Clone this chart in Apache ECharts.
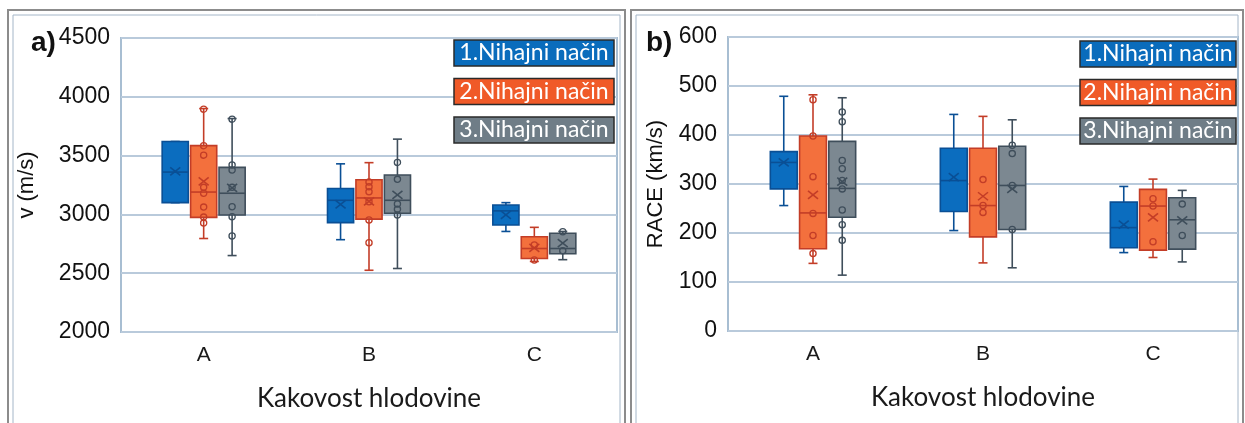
<!DOCTYPE html>
<html lang="sl">
<head>
<meta charset="UTF-8">
<title>Kakovost hlodovine</title>
<script src="https://cdn.jsdelivr.net/npm/echarts@6/dist/echarts.min.js"></script>
<style>
    html, body { margin: 0; padding: 0; background: #fff; }
    #chart { width: 1245px; height: 423px; }
</style>
</head>
<body>
<div id="chart"></div>
<script>
    // categories and series names
    const categories = ['A', 'B', 'C'];
    const modeNames = ['1.Nihajni način', '2.Nihajni način', '3.Nihajni način'];

    // a) v (m/s): per category [min, Q1, median, Q3, max, mean]
    const vMode1 = [[3100, 3100, 3360, 3620, 3620, 3365], [2785, 2930, 3120, 3220, 3430, 3085], [2855, 2910, 3030, 3080, 3100, 2995]];
    const vMode2 = [[2795, 2975, 3190, 3585, 3900, 3280], [2525, 2960, 3140, 3295, 3440, 3110], [2600, 2625, 2710, 2810, 2890, 2715]];
    const vMode3 = [[2650, 2995, 3180, 3400, 3815, 3225], [2540, 3010, 3120, 3335, 3640, 3165], [2615, 2665, 2710, 2840, 2855, 2755]];
    // a) single measurements shown as circles: [category index, value]
    const vPoints2 = [[0, 3895], [0, 3584], [0, 3504], [0, 3230], [0, 3180], [0, 3062], [0, 2977], [0, 2926],
        [1, 3275], [1, 3235], [1, 3193], [1, 3108], [1, 2952], [1, 2759], [2, 2740], [2, 2612]];
    const vPoints3 = [[0, 3810], [0, 3420], [0, 3377], [0, 3230], [0, 3065], [0, 2980], [0, 2816],
        [1, 3442], [1, 3298], [1, 3088], [1, 3043], [1, 2995], [2, 2853], [2, 2690]];

    // b) RACE (km/s)
    const raceMode1 = [[256, 290, 344, 366, 479, 344], [205, 244, 307, 373, 442, 314], [160, 170, 211, 263, 295, 217]];
    const raceMode2 = [[138, 168, 241, 398, 482, 278], [139, 192, 256, 373, 438, 275], [150, 165, 255, 289, 310, 232]];
    const raceMode3 = [[114, 232, 291, 387, 476, 305], [129, 207, 297, 377, 431, 290], [141, 167, 227, 272, 287, 226]];
    const racePoints2 = [[0, 472], [0, 398], [0, 315], [0, 240], [0, 195], [0, 158],
        [1, 309], [1, 256], [1, 242], [2, 270], [2, 255], [2, 182]];
    const racePoints3 = [[0, 447], [0, 427], [0, 348], [0, 331], [0, 307], [0, 290], [0, 247], [0, 217], [0, 185],
        [1, 379], [1, 362], [1, 297], [1, 207], [2, 259], [2, 195]];

    const fills = ['#0b6dbf', '#f3703d', '#7c8891'];
    const strokes = ['#0a4f95', '#c33d27', '#3f4e5b'];
    const legendFills = ['#0a6cbc', '#f05a28', '#6f7d87'];

    function boxRenderer(idx) {
        return function (params, api) {
            const cat = api.value(0);
            const band = api.size([1, 0])[0];
            const w = band * 0.158;
            const cx = api.coord([cat, api.value(3)])[0] + (idx - 1) * band * 0.172;
            const y = i => api.coord([cat, api.value(i)])[1];
            const yMin = y(1), yQ1 = y(2), yMed = y(3), yQ3 = y(4), yMax = y(5), yMean = y(6);
            const cap = 4.5, xs = 5;
            const line = (x1, y1, x2, y2) => ({
                type: 'line',
                shape: { x1: x1, y1: y1, x2: x2, y2: y2 },
                style: { stroke: strokes[idx], lineWidth: 1.6 }
            });
            return {
                type: 'group',
                children: [
                    line(cx, yQ3, cx, yMax),
                    line(cx - cap, yMax, cx + cap, yMax),
                    line(cx, yQ1, cx, yMin),
                    line(cx - cap, yMin, cx + cap, yMin),
                    {
                        type: 'rect',
                        shape: { x: cx - w / 2, y: yQ3, width: w, height: yQ1 - yQ3 },
                        style: { fill: fills[idx], stroke: strokes[idx], lineWidth: 1.6 }
                    },
                    line(cx - w / 2, yMed, cx + w / 2, yMed),
                    line(cx - xs, yMean - xs * 0.8, cx + xs, yMean + xs * 0.8),
                    line(cx - xs, yMean + xs * 0.8, cx + xs, yMean - xs * 0.8)
                ]
            };
        };
    }

    function pointRenderer(idx) {
        return function (params, api) {
            const cat = api.value(0);
            const band = api.size([1, 0])[0];
            const p = api.coord([cat, api.value(1)]);
            return {
                type: 'circle',
                shape: { cx: p[0] + (idx - 1) * band * 0.172, cy: p[1], r: 3.1 },
                style: { fill: 'none', stroke: strokes[idx], lineWidth: 1.3 }
            };
        };
    }

    function boxSeries(grid, idx, data) {
        return {
            type: 'custom',
            name: modeNames[idx],
            xAxisIndex: grid,
            yAxisIndex: grid,
            renderItem: boxRenderer(idx),
            encode: { x: 0, y: [1, 2, 3, 4, 5] },
            data: data.map((d, i) => [i].concat(d)),
            z: 2
        };
    }

    function pointSeries(grid, idx, data) {
        return {
            type: 'custom',
            xAxisIndex: grid,
            yAxisIndex: grid,
            renderItem: pointRenderer(idx),
            encode: { x: 0, y: 1 },
            data: data,
            z: 3
        };
    }

    const xAxisBase = {
        type: 'category',
        data: categories,
        axisLine: { show: false },
        axisTick: { show: false },
        axisLabel: { fontSize: 21, color: '#1a1a1a', margin: 13, fontFamily: 'Liberation Sans' },
        name: 'Kakovost hlodovine',
        nameLocation: 'middle',
        nameGap: 54,
        nameTextStyle: { fontSize: 26, color: '#1a1a1a', fontFamily: 'Lato' }
    };

    function yAxis(name, min, max, step, gap) {
        return {
            type: 'value',
            min: min,
            max: max,
            interval: step,
            axisLine: { show: false },
            axisTick: { show: false },
            axisLabel: {
                fontSize: 23, color: '#111', margin: 11, fontFamily: 'Liberation Sans',
                formatter: v => String(v)
            },
            splitLine: { lineStyle: { color: '#b9cadb', width: 2 } },
            name: name,
            nameLocation: 'middle',
            nameRotate: 90,
            nameGap: gap,
            nameTextStyle: { fontSize: 22, color: '#111', fontFamily: 'Liberation Sans' }
        };
    }

    function legendGraphic(x, y, w) {
        return modeNames.map((name, i) => ({
            type: 'group',
            x: x,
            y: y + i * 38.5,
            z: 100,
            children: [{
                type: 'rect',
                z: 100,
                shape: { x: 0, y: 0, width: w, height: 26 },
                style: { fill: legendFills[i], stroke: '#2a2a2a', lineWidth: 1.5 }
            }, {
                type: 'text',
                z: 101,
                x: w / 2,
                y: 13,
                style: {
                    text: name, fill: '#fff', font: '23px Lato',
                    align: 'center', verticalAlign: 'middle'
                }
            }]
        }));
    }

    function frame(x, w) {
        return [{
            type: 'rect',
            shape: { x: x, y: 10, width: w, height: 430 },
            style: { fill: 'none', stroke: '#8c8c8c', lineWidth: 2 },
            z: -1
        }, {
            type: 'rect',
            shape: { x: x + 5, y: 15, width: w - 10, height: 430 },
            style: { fill: 'none', stroke: '#a4b6c8', lineWidth: 1 },
            z: -1
        }];
    }

    const chart = echarts.init(document.getElementById('chart'));
    chart.setOption({
        animation: false,
        title: [{
            text: 'a)', left: 26, top: 24,
            textStyle: { fontSize: 28, fontWeight: 'bold', color: '#111', fontFamily: 'Liberation Sans' }
        }, {
            text: 'b)', left: 641, top: 24,
            textStyle: { fontSize: 28, fontWeight: 'bold', color: '#111', fontFamily: 'Liberation Sans' }
        }],
        grid: [
            { left: 121, top: 38, width: 496, height: 294, show: true, borderColor: '#a8bed2', borderWidth: 2 },
            { left: 728, top: 37, width: 510, height: 294, show: true, borderColor: '#a8bed2', borderWidth: 2 }
        ],
        xAxis: [
            Object.assign({ gridIndex: 0 }, xAxisBase),
            Object.assign({ gridIndex: 1 }, xAxisBase)
        ],
        yAxis: [
            Object.assign({ gridIndex: 0 }, yAxis('v (m/s)', 2000, 4500, 500, 83)),
            Object.assign({ gridIndex: 1 }, yAxis('RACE (km/s)', 0, 600, 100, 61))
        ],
        graphic: frame(8, 617).concat(frame(631, 612))
            .concat(legendGraphic(454, 40, 160))
            .concat(legendGraphic(1080, 41, 156)),
        series: [
            boxSeries(0, 0, vMode1),
            boxSeries(0, 1, vMode2),
            boxSeries(0, 2, vMode3),
            pointSeries(0, 1, vPoints2),
            pointSeries(0, 2, vPoints3),
            boxSeries(1, 0, raceMode1),
            boxSeries(1, 1, raceMode2),
            boxSeries(1, 2, raceMode3),
            pointSeries(1, 1, racePoints2),
            pointSeries(1, 2, racePoints3)
        ]
    });
</script>
</body>
</html>
